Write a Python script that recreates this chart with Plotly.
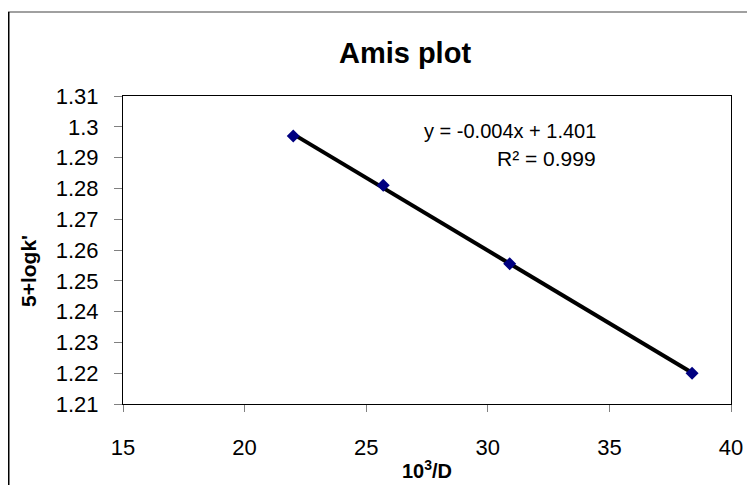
import numpy as np
import plotly.graph_objects as go

x_vals = [22.0, 25.7, 30.9, 38.4]
y_vals = [1.297, 1.281, 1.2555, 1.220]
x_ticks = [15, 20, 25, 30, 35, 40]
y_ticks = [1.21, 1.22, 1.23, 1.24, 1.25, 1.26, 1.27, 1.28, 1.29, 1.3, 1.31]
title_text = "Amis plot"
x_title = "10<sup>3</sup>/D"
y_title = "5+logk'"
eq_text = "y = -0.004x + 1.401"
r2_text = "R² = 0.999"

slope, intercept = np.polyfit(x_vals, y_vals, 1)
fit_x = [min(x_vals), max(x_vals)]
fit_y = [slope * v + intercept for v in fit_x]

FONT = "Liberation Sans, Arial, sans-serif"

fig = go.Figure()
fig.add_trace(go.Scatter(x=fit_x, y=fit_y, mode="lines",
                         line=dict(color="black", width=4), showlegend=False, hoverinfo="skip"))
fig.add_trace(go.Scatter(x=x_vals, y=y_vals, mode="markers",
                         marker=dict(symbol="diamond", size=10, color="#000080",
                                     line=dict(width=0)), showlegend=False))

# page has an 8px body margin; figure is placed at (8, 8)
OFF = 8
W, H = 755 - OFF, 485 - OFF
PL, PR, PT, PB = 123, 731, 96, 404  # plot area in page pixels
L, R, T, B = PL - OFF, W - (PR - OFF), PT - OFF, H - (PB - OFF)
pw, ph = W - L - R, H - T - B

def px2paper_x(p):
    return (p - OFF - L) / pw

def px2paper_y(p):
    return (H - B - (p - OFF)) / ph

fig.update_layout(
    width=W, height=H,
    margin=dict(l=L, r=R, t=T, b=B),
    paper_bgcolor="white", plot_bgcolor="white",
    font=dict(family=FONT, color="black", size=22),
    title=dict(text=f"<b>{title_text}</b>", x=px2paper_x(405), xref="paper", xanchor="center",
               y=1 - (53 - OFF) / H, yanchor="middle", font=dict(size=29, family=FONT)),
    xaxis=dict(range=[15, 40], tickvals=x_ticks, ticktext=[str(v) for v in x_ticks],
               showgrid=False, zeroline=False, showline=True, linecolor="black", linewidth=1,
               mirror=True, ticks="outside", ticklen=7, tickcolor="#808080",
               ticklabelstandoff=17, tickfont=dict(size=22)),
    yaxis=dict(range=[1.21, 1.31], tickvals=y_ticks, ticktext=[f"{v:g}" for v in y_ticks],
               showgrid=False, zeroline=False, showline=True, linecolor="black", linewidth=1,
               mirror=True, ticks="outside", ticklen=8, tickcolor="#808080",
               ticklabelstandoff=11, tickfont=dict(size=22)),
    annotations=[
        dict(text=eq_text, x=px2paper_x(598), y=px2paper_y(131), xanchor="right", yanchor="middle",
             align="right", xref="paper", yref="paper", showarrow=False, font=dict(size=20)),
        dict(text=r2_text, x=px2paper_x(598), y=px2paper_y(158), xanchor="right", yanchor="middle",
             align="right", xref="paper", yref="paper", showarrow=False, font=dict(size=21)),
        dict(text=f"<b>{x_title}</b>", x=px2paper_x(427), y=px2paper_y(470),
             xanchor="center", yanchor="middle",
             xref="paper", yref="paper", showarrow=False, font=dict(size=20)),
        dict(text=f"<b>{y_title}</b>", x=px2paper_x(28), y=px2paper_y(271), textangle=-90,
             xanchor="center", yanchor="middle",
             xref="paper", yref="paper", showarrow=False, font=dict(size=21)),
    ],
    shapes=[
        dict(type="line", xref="paper", yref="paper", x0=px2paper_x(8), x1=px2paper_x(755),
             y0=px2paper_y(12), y1=px2paper_y(12), line=dict(color="#808080", width=1.5)),
        dict(type="line", xref="paper", yref="paper", x0=px2paper_x(8.5), x1=px2paper_x(8.5),
             y0=px2paper_y(12), y1=px2paper_y(485), line=dict(color="black", width=2)),
    ],
)

fig.write_html("out.html")
